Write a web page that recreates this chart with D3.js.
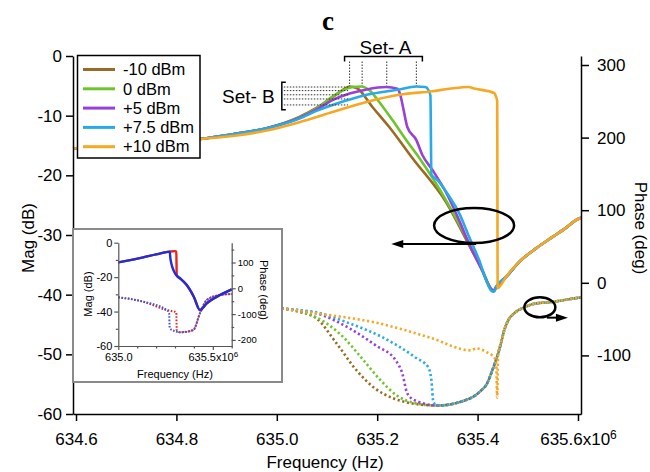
<!DOCTYPE html>
<html><head><meta charset="utf-8">
<script src="https://cdn.jsdelivr.net/npm/d3@7"></script>
<style>
body{margin:0;background:#fff}
text{font-family:"Liberation Sans",Arial,Helvetica,sans-serif;fill:#000}
</style>
</head><body>
<svg id="chart" width="650" height="472"></svg>
<script>
// ---------------- DATA ----------------
const seriesNames  = ["-10 dBm","0 dBm","+5 dBm","+7.5 dBm","+10 dBm"];
const seriesColors = ["#9b6a24","#6cc62a","#9a3fd8","#28aae9","#f6a823"];

const xTicks     = [634.6, 634.8, 635.0, 635.2, 635.4, 635.6];
const magTicks   = [0, -10, -20, -30, -40, -50, -60];
const phaseTicks = [300, 200, 100, 0, -100];

// magnitude (dB) vs frequency (MHz)
const magHead = [[634.594,-15.5],[634.717,-14.7],[634.847,-13.9],[634.912,-13.1],[634.980,-12.1]];
const magTail = [[635.437,-38.7],[635.457,-37.0],[635.483,-34.5],[635.517,-32.2],[635.548,-30.4],[635.576,-28.8],[635.596,-27.5],[635.606,-27.1]];

const magM10 = [[635.045,-10.2],[635.079,-8.7],[635.111,-6.9],[635.131,-5.7],[635.145,-5.1],[635.160,-5.4],[635.190,-8.5],[635.224,-11.9],[635.270,-17.1],[635.338,-24.6],[635.383,-31.7],[635.409,-35.9],[635.425,-38.8],[635.431,-39.4]];
const mag0   = [[635.045,-10.3],[635.079,-8.8],[635.111,-6.8],[635.131,-5.8],[635.151,-5.2],[635.168,-5.1],[635.184,-5.7],[635.204,-7.7],[635.230,-10.7],[635.258,-14.1],[635.284,-17.1],[635.340,-24.6],[635.387,-32.0],[635.410,-36.0],[635.427,-39.0],[635.432,-39.4]];
const mag5   = [[635.045,-10.4],[635.079,-9.0],[635.111,-7.4],[635.145,-6.3],[635.179,-5.6],[635.218,-5.2],[635.240,-5.5],[635.246,-6.5],[635.252,-8.8],[635.260,-11.9],[635.278,-14.1],[635.290,-16.6],[635.310,-19.1],[635.338,-23.0],[635.363,-27.5],[635.383,-31.5],[635.409,-35.9],[635.426,-39.0],[635.432,-39.4]];
const mag75  = [[635.045,-10.5],[635.079,-9.2],[635.111,-8.2],[635.145,-7.3],[635.179,-6.5],[635.244,-5.6],[635.278,-5.1],[635.296,-5.2],[635.302,-5.7],[635.306,-6.6],[635.308,-19.9],[635.320,-20.8],[635.344,-23.6],[635.363,-26.3],[635.383,-30.3],[635.403,-34.2],[635.419,-38.0],[635.428,-39.4],[635.433,-39.5]];
const mag10  = [[634.594,-15.5],[634.717,-14.7],[634.847,-13.9],[634.912,-13.4],[634.980,-12.5],[635.045,-11.1],[635.111,-9.4],[635.179,-7.7],[635.244,-6.5],[635.310,-5.9],[635.344,-5.5],[635.383,-5.2],[635.391,-5.4],[635.433,-6.2],[635.437,-6.9],[635.439,-7.5],[635.440,-38.9],[635.446,-38.4],[635.457,-37.0],[635.483,-34.5],[635.517,-32.2],[635.548,-30.4],[635.576,-28.8],[635.596,-27.5],[635.606,-27.1]];

// phase (deg) vs frequency (MHz)
const phHead = [[635.000,-34.5],[635.010,-35.3]];
const phTail = [[635.345,-167.5],[635.374,-162.1],[635.392,-156.6],[635.407,-148.3],[635.419,-138.6],[635.427,-124.8],[635.435,-109.7],[635.441,-97.2],[635.447,-82.0],[635.453,-65.5],[635.461,-51.7],[635.473,-42.0],[635.493,-33.8],[635.517,-28.3],[635.541,-26.9],[635.593,-21.4],[635.606,-20.0]];

const phM10 = [[635.045,-40.0],[635.079,-49.0],[635.119,-83.4],[635.159,-120.7],[635.193,-144.1],[635.233,-159.3],[635.270,-166.2],[635.320,-169.0]];
const ph0   = [[635.045,-39.0],[635.079,-47.6],[635.133,-75.2],[635.173,-106.9],[635.207,-134.5],[635.239,-155.2],[635.270,-164.8],[635.320,-169.0]];
const ph5   = [[635.045,-38.0],[635.079,-42.0],[635.145,-62.8],[635.197,-86.2],[635.237,-106.9],[635.250,-124.8],[635.260,-152.4],[635.276,-162.1],[635.320,-169.0]];
const ph75  = [[635.045,-37.5],[635.079,-40.7],[635.145,-55.9],[635.211,-75.2],[635.276,-102.8],[635.302,-116.6],[635.308,-134.5],[635.312,-164.8],[635.320,-169.0]];
const ph10  = [[635.000,-34.5],[635.010,-35.3],[635.079,-42.0],[635.204,-55.9],[635.304,-75.2],[635.387,-93.1],[635.397,-90.3],[635.419,-95.9],[635.433,-102.8],[635.437,-110.0],[635.439,-158.0],[635.441,-97.2],[635.447,-82.0],[635.453,-65.5],[635.461,-51.7],[635.473,-42.0],[635.493,-33.8],[635.517,-28.3],[635.541,-26.9],[635.593,-21.4],[635.606,-20.0]];

// annotation values
const setAFreqs = [635.145, 635.170, 635.219, 635.278];
const setBMags  = [-5.2, -5.8, -6.5, -7.2, -8.2];

// inset data
const insetXTicks = [635.0, 635.5];
const insetXMinor = [635.1, 635.2, 635.3, 635.4, 635.6];
const insetMagTicks = [0, -20, -40, -60];
const insetMagMinor = [-10, -30, -50];
const insetPhTicks = [100, 0, -100, -200];
const insetPhMinor = [150, 50, -50, -150];
const insetMagBlue = [[635.000,-11.4],[635.132,-8.5],[635.200,-6.8],[635.272,-5.2],[635.276,-9.5],[635.300,-17.8],[635.330,-21.0],[635.362,-24.6],[635.400,-31.5],[635.432,-39.1],[635.468,-35.2],[635.538,-30.4],[635.600,-27.1]];
const insetMagRed  = [[635.000,-11.4],[635.132,-8.5],[635.200,-6.8],[635.272,-5.2],[635.300,-4.9],[635.307,-5.3],[635.309,-18.8],[635.318,-20.2],[635.330,-21.0],[635.362,-24.6],[635.400,-31.5],[635.432,-39.1],[635.468,-35.2],[635.538,-30.4],[635.600,-27.1]];
const insetPhBlue  = [[635.000,-34.9],[635.132,-51.9],[635.256,-84.1],[635.269,-96.9],[635.272,-155.0],[635.300,-166.0],[635.327,-170.5],[635.397,-161.6],[635.432,-96.9],[635.468,-45.3],[635.530,-27.0],[635.600,-22.1]];
const insetPhRed   = [[635.000,-34.9],[635.132,-51.9],[635.256,-84.1],[635.280,-88.0],[635.300,-90.7],[635.307,-95.0],[635.309,-161.6],[635.327,-170.5],[635.397,-161.6],[635.432,-96.9],[635.468,-45.3],[635.530,-27.0],[635.600,-22.1]];

// ---------------- DRAW ----------------
const magSeries = [magHead.concat(magM10, magTail), magHead.concat(mag0, magTail), magHead.concat(mag5, magTail), magHead.concat(mag75, magTail), mag10];
const phSeries  = [phHead.concat(phM10, phTail), phHead.concat(ph0, phTail), phHead.concat(ph5, phTail), phHead.concat(ph75, phTail), ph10];

const svg = d3.select("#chart");
const L = 73, R = 581, T = 56, B = 414;
const x = d3.scaleLinear().domain([634.594, 635.606]).range([L, R]);
const yM = d3.scaleLinear().domain([-60, 0]).range([B, T]);
const yP = d3.scaleLinear().domain([-180.7, 312.4]).range([B, T]);
const curve = d3.curveMonotoneX;

// title
svg.append("text").attr("x", 328).attr("y", 30).attr("text-anchor","middle")
  .style("font-family","'Liberation Serif','DejaVu Serif',serif").style("font-size","27px").style("font-weight","bold").text("c");

// phase curves (dotted)
const linePh = d3.line().curve(curve).x(d => x(d[0])).y(d => yP(d[1]));
phSeries.forEach((s, i) => {
  svg.append("path").attr("d", linePh(s)).attr("fill","none")
    .attr("stroke", seriesColors[i]).attr("stroke-width", 2.6)
    .attr("stroke-dasharray","2.2,2.6");
});
// magnitude curves (solid)
const lineM = d3.line().curve(curve).x(d => x(d[0])).y(d => yM(d[1]));
magSeries.forEach((s, i) => {
  svg.append("path").attr("d", lineM(s)).attr("fill","none")
    .attr("stroke", seriesColors[i]).attr("stroke-width", 2.6)
    .attr("stroke-linejoin","round");
});

// axes
const axFont = "17px";
const gx = svg.append("g").attr("transform", `translate(0,${B})`)
  .call(d3.axisBottom(x).tickValues(xTicks).tickSize(7).tickSizeOuter(0).tickPadding(8).tickFormat(d3.format(".1f")));
const gl = svg.append("g").attr("transform", `translate(${L},0)`)
  .call(d3.axisLeft(yM).tickValues(magTicks).tickSize(7).tickSizeOuter(0).tickPadding(4).tickFormat(d => d));
const gr = svg.append("g").attr("transform", `translate(${R},0)`)
  .call(d3.axisRight(yP).tickValues(phaseTicks).tickSize(8).tickSizeOuter(0).tickPadding(8).tickFormat(d => d));
[gx, gl, gr].forEach(g => {
  g.selectAll("path.domain").attr("stroke","#000").attr("stroke-width",1.5);
  g.selectAll(".tick line").attr("stroke","#000").attr("stroke-width",1.5);
  g.selectAll("text").style("font-size", axFont).style("font-family","'Liberation Sans',Arial,sans-serif").attr("fill","#000");
});
gx.selectAll("text").attr("dy","0.95em");
// superscript on last x label
gx.selectAll(".tick text").filter(d => d === xTicks[xTicks.length-1]).each(function(d){
  const t = d3.select(this); t.text(null);
  t.append("tspan").text(d3.format(".1f")(d) + "x10");
  t.append("tspan").attr("dy","-0.55em").style("font-size","12px").text("6");
});

// axis titles
svg.append("text").attr("x", 325).attr("y", 468).attr("text-anchor","middle").style("font-size","17px").text("Frequency (Hz)");
svg.append("text").attr("transform","translate(34,238) rotate(-90)").attr("text-anchor","middle").style("font-size","17px").text("Mag (dB)");
svg.append("text").attr("transform","translate(635,228) rotate(90)").attr("text-anchor","middle").style("font-size","17px").text("Phase (deg)");

// legend
const lg = svg.append("g");
lg.append("rect").attr("x",77.5).attr("y",55.5).attr("width",122.5).attr("height",102.5)
  .attr("fill","#fff").attr("stroke","#000").attr("stroke-width",1.5);
seriesNames.forEach((n, i) => {
  const yy = 69.5 + i * 19.3;
  lg.append("line").attr("x1",83).attr("x2",115).attr("y1",yy).attr("y2",yy)
    .attr("stroke",seriesColors[i]).attr("stroke-width",3);
  lg.append("text").attr("x",123).attr("y",yy).attr("dy","0.35em").style("font-size","16.5px").text(n);
});

// Set-A annotation
const aL = x(635.135), aR = x(635.290), aT = yM(0) + 0.5;
svg.append("path").attr("d", `M${aL},${aT+5}V${aT}H${aR}V${aT+5}`).attr("fill","none").attr("stroke","#000").attr("stroke-width",1.5);
svg.append("text").attr("x",(aL+aR)/2 + 2).attr("y",aT-3).attr("text-anchor","middle").style("font-size","19px").text("Set- A");
setAFreqs.forEach(f => {
  svg.append("line").attr("x1",x(f)).attr("x2",x(f)).attr("y1",aT+5).attr("y2",yM(-5.0))
    .attr("stroke","#333").attr("stroke-width",1).attr("stroke-dasharray","1.5,1.5");
});
// Set-B annotation
const bX = x(635.010);
const bT = yM(-4.4), bB = yM(-9.0);
svg.append("path").attr("d", `M${bX+4},${bT}H${bX}V${bB}H${bX+4}`).attr("fill","none").attr("stroke","#000").attr("stroke-width",1.5);
svg.append("text").attr("x",bX-7).attr("y",(bT+bB)/2).attr("dy","0.35em").attr("text-anchor","end").style("font-size","19px").text("Set- B");
setBMags.forEach(m => {
  svg.append("line").attr("x1",bX+2).attr("x2",x(635.142)).attr("y1",yM(m)).attr("y2",yM(m))
    .attr("stroke","#333").attr("stroke-width",1).attr("stroke-dasharray","1.5,1.5");
});

// ellipse + arrow annotations
function arrow(x1, y1, x2, y2) {
  const dir = Math.sign(x2 - x1);
  svg.append("line").attr("x1",x1).attr("y1",y1).attr("x2",x2 - dir*8).attr("y2",y2).attr("stroke","#000").attr("stroke-width",2);
  svg.append("path").attr("d", `M${x2},${y2}L${x2-dir*12},${y2-4}L${x2-dir*12},${y2+4}Z`).attr("fill","#000");
}
svg.append("ellipse").attr("cx",x(635.393)).attr("cy",yM(-28.4)).attr("rx",40).attr("ry",17.5)
  .attr("fill","none").attr("stroke","#000").attr("stroke-width",2.5);
arrow(x(635.397), yM(-31.5), x(635.228), yM(-31.5));
svg.append("ellipse").attr("cx",x(635.524)).attr("cy",yP(-33.8)).attr("rx",15.5).attr("ry",10)
  .attr("fill","none").attr("stroke","#000").attr("stroke-width",2.5);
arrow(x(635.538), yP(-48.0), x(635.580), yP(-48.0));

// ---------------- INSET ----------------
const ins = svg.append("g");
ins.append("rect").attr("x",73).attr("y",229).attr("width",209).attr("height",153)
  .attr("fill","#fff").attr("stroke","#8a8a8a").attr("stroke-width",2);
const iL = 118.3, iR = 231.7, iT = 242.7, iB = 346;
const ix = d3.scaleLinear().domain([635.0, 635.6]).range([iL, iR]);
const iyM = d3.scaleLinear().domain([-60, 0]).range([iB, iT]);
const iyP = d3.scaleLinear().domain([-223.6, 176.7]).range([iB, iT]);
const iLineM = d3.line().curve(curve).x(d => ix(d[0])).y(d => iyM(d[1]));
const iLineP = d3.line().curve(curve).x(d => ix(d[0])).y(d => iyP(d[1]));
const insRed = "#e8241f", insBlue = "#1f2fd6";
ins.append("path").attr("d", iLineP(insetPhRed)).attr("fill","none").attr("stroke",insRed).attr("stroke-width",2).attr("stroke-dasharray","1.6,1.6");
ins.append("path").attr("d", iLineP(insetPhBlue)).attr("fill","none").attr("stroke","#3a55e8").attr("stroke-width",2).attr("stroke-dasharray","1.6,1.6");
ins.append("path").attr("d", iLineM(insetMagRed)).attr("fill","none").attr("stroke",insRed).attr("stroke-width",2.4);
ins.append("path").attr("d", iLineM(insetMagBlue)).attr("fill","none").attr("stroke",insBlue).attr("stroke-width",2.4);

const axCol = "#555";
const ixAx = ins.append("g").attr("transform",`translate(0,${iB})`)
  .call(d3.axisBottom(ix).tickValues(insetXTicks).tickSize(4).tickSizeOuter(0).tickPadding(3).tickFormat(d3.format(".1f")));
ins.append("g").attr("transform",`translate(0,${iB})`).call(d3.axisBottom(ix).tickValues(insetXMinor).tickSize(2.5).tickSizeOuter(0).tickFormat(""))
  .call(g => g.select(".domain").remove());
const iyAx = ins.append("g").attr("transform",`translate(${iL},0)`)
  .call(d3.axisLeft(iyM).tickValues(insetMagTicks).tickSize(4).tickSizeOuter(0).tickPadding(2).tickFormat(d => d));
ins.append("g").attr("transform",`translate(${iL},0)`).call(d3.axisLeft(iyM).tickValues(insetMagMinor).tickSize(2.5).tickSizeOuter(0).tickFormat(""))
  .call(g => g.select(".domain").remove());
const ipAx = ins.append("g").attr("transform",`translate(${iR},0)`)
  .call(d3.axisRight(iyP).tickValues(insetPhTicks).tickSize(4).tickSizeOuter(0).tickPadding(2).tickFormat(d => d));
ins.append("g").attr("transform",`translate(${iR},0)`).call(d3.axisRight(iyP).tickValues(insetPhMinor).tickSize(2.5).tickSizeOuter(0).tickFormat(""))
  .call(g => g.select(".domain").remove());
ins.selectAll("path.domain").attr("stroke",axCol).attr("stroke-width",1.2);
ins.selectAll(".tick line").attr("stroke",axCol).attr("stroke-width",1.2);
[ixAx, iyAx].forEach(g => g.selectAll("text").style("font-size","11px").style("font-family","'Liberation Sans',Arial,sans-serif").attr("fill","#222"));
ipAx.selectAll("text").style("font-size","9.5px").style("font-family","'Liberation Sans',Arial,sans-serif").attr("fill","#222");
ixAx.selectAll(".tick text").filter(d => d === 635.5).each(function(d){
  const t = d3.select(this); t.text(null);
  t.append("tspan").text("635.5x10");
  t.append("tspan").attr("dy","-0.5em").style("font-size","8px").text("6");
});
ins.append("text").attr("x",175).attr("y",378).attr("text-anchor","middle").style("font-size","11px").attr("fill","#222").text("Frequency (Hz)");
ins.append("text").attr("transform","translate(92,294) rotate(-90)").attr("text-anchor","middle").style("font-size","11px").attr("fill","#222").text("Mag (dB)");
ins.append("text").attr("transform","translate(260,290) rotate(90)").attr("text-anchor","middle").style("font-size","11px").attr("fill","#222").text("Phase (deg)");
</script>
</body></html>
